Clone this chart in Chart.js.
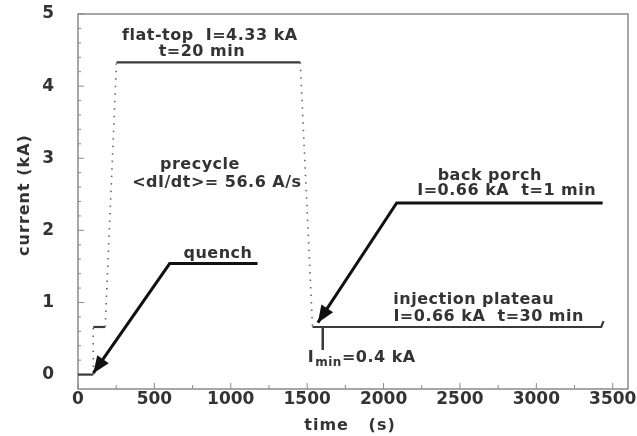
<!DOCTYPE html>
<html lang="en">
<head>
<meta charset="UTF-8">
<title>Magnet current cycle</title>
<script src="https://cdn.jsdelivr.net/npm/chart.js"></script>
<style>
  body { margin: 0; background: #fff; }
  #wrap { width: 637px; height: 436px; }
</style>
</head>
<body>
<div id="wrap"><canvas id="cycleChart" width="637" height="436"></canvas></div>
<script>
// current cycle, time in s, current in kA
const cycleTime    = [0, 100, 100,  178,  252, 1455, 1535, 3425, 3440];
const cycleCurrent = [0,   0, 0.66, 0.66, 4.33, 4.33, 0.66, 0.66, 0.74];
const rampStarts = [1, 3, 5]; // segments drawn dotted (ramps)

const iminTime = [1602, 1602];
const iminCurrent = [0.66, 0.34];

// arrows: underline then pointer, last point is the tip
const quenchTime = [1175, 600, 100];
const quenchCurrent = [1.54, 1.54, 0.02];
const porchTime = [3434, 2086, 1570];
const porchCurrent = [2.38, 2.38, 0.72];

const xTicks = [0, 500, 1000, 1500, 2000, 2500, 3000, 3500];
const yTicks = [0, 1, 2, 3, 4, 5];

const notes = [
  { text: 'flat-top  I=4.33 kA', t: 863, i: 4.70 },
  { text: 't=20 min', t: 811, i: 4.48 },
  { text: 'precycle', t: 798, i: 2.91 },
  { text: '<dI/dt>= 56.6 A/s', t: 909, i: 2.66 },
  { text: 'quench', t: 916, i: 1.68 },
  { text: 'back porch', t: 2695, i: 2.75 },
  { text: 'I=0.66 kA  t=1 min', t: 2806, i: 2.55 },
  { text: 'injection plateau', t: 2590, i: 1.03 },
  { text: 'I=0.66 kA  t=30 min', t: 2688, i: 0.80 }
];

const FONT = '"DejaVu Sans", sans-serif';
const INK = '#333';

function pts(xs, ys) {
  return xs.map((x, k) => ({ x: x, y: ys[k] }));
}

const decorPlugin = {
  id: 'decor',
  beforeDatasetsDraw(chart) {
    const { ctx, chartArea: a, scales: { x, y } } = chart;
    ctx.save();
    ctx.strokeStyle = '#8a8a8a';
    ctx.lineWidth = 1.5;
    ctx.strokeRect(a.left, a.top, a.right - a.left, a.bottom - a.top);
    // small inward ticks
    ctx.lineWidth = 1;
    for (let v = 0; v <= 3500; v += 250) {
      const px = x.getPixelForValue(v);
      const len = v % 500 === 0 ? 6 : 4;
      ctx.beginPath();
      ctx.moveTo(px, a.bottom);
      ctx.lineTo(px, a.bottom - len);
      ctx.stroke();
    }
    for (let k = 0; k <= 25; k++) {
      const py = y.getPixelForValue(k * 0.2);
      const len = k % 5 === 0 ? 6 : 3;
      ctx.beginPath();
      ctx.moveTo(a.left, py);
      ctx.lineTo(a.left + len, py);
      ctx.stroke();
    }
    ctx.restore();
  },
  afterDatasetsDraw(chart) {
    const { ctx, scales: { x, y } } = chart;
    ctx.save();
    // arrow heads
    chart.data.datasets.forEach((ds, i) => {
      if (!ds.arrow) return;
      const els = chart.getDatasetMeta(i).data;
      const p1 = els[els.length - 2], p2 = els[els.length - 1];
      const ang = Math.atan2(p2.y - p1.y, p2.x - p1.x);
      const L = 17, W = 7;
      ctx.fillStyle = ds.borderColor;
      ctx.beginPath();
      ctx.moveTo(p2.x, p2.y);
      ctx.lineTo(p2.x - L * Math.cos(ang) + W * Math.sin(ang), p2.y - L * Math.sin(ang) - W * Math.cos(ang));
      ctx.lineTo(p2.x - L * Math.cos(ang) - W * Math.sin(ang), p2.y - L * Math.sin(ang) + W * Math.cos(ang));
      ctx.closePath();
      ctx.fill();
    });

    ctx.fillStyle = INK;
    ctx.font = 'bold 16px ' + FONT;
    ctx.letterSpacing = '0.5px';
    ctx.textAlign = 'center';
    ctx.textBaseline = 'middle';
    notes.forEach(n => {
      ctx.fillText(n.text, x.getPixelForValue(n.t), y.getPixelForValue(n.i));
    });

    // I_min label with subscript
    let lx = x.getPixelForValue(1504), ly = y.getPixelForValue(0.23);
    ctx.textAlign = 'left';
    ctx.fillText('I', lx, ly);
    lx += ctx.measureText('I').width + 1;
    ctx.font = 'bold 12px ' + FONT;
    ctx.fillText('min', lx, ly + 5);
    lx += ctx.measureText('min').width;
    ctx.font = 'bold 16px ' + FONT;
    ctx.fillText('=0.4 kA', lx, ly);

    // axis titles
    ctx.textAlign = 'center';
    ctx.letterSpacing = '1px';
    ctx.fillText('time   (s)', 350, 426);
    ctx.translate(25, 195);
    ctx.rotate(-Math.PI / 2);
    ctx.fillText('current (kA)', 0, 0);
    ctx.restore();
  }
};

new Chart(document.getElementById('cycleChart'), {
  type: 'scatter',
  data: {
    datasets: [
      {
        data: pts(cycleTime, cycleCurrent),
        showLine: true,
        borderColor: '#3a3a3a',
        borderWidth: 2.2,
        pointRadius: 0,
        segment: {
          borderDash: c => rampStarts.includes(c.p0DataIndex) ? [1.5, 6] : undefined,
          borderColor: c => rampStarts.includes(c.p0DataIndex) ? '#666' : undefined,
          borderWidth: c => rampStarts.includes(c.p0DataIndex) ? 1.6 : undefined
        }
      },
      {
        data: pts(iminTime, iminCurrent),
        showLine: true,
        borderColor: '#3a3a3a',
        borderWidth: 2.5,
        pointRadius: 0
      },
      {
        data: pts(quenchTime, quenchCurrent),
        showLine: true,
        borderColor: '#111',
        borderWidth: 3,
        pointRadius: 0,
        arrow: true
      },
      {
        data: pts(porchTime, porchCurrent),
        showLine: true,
        borderColor: '#111',
        borderWidth: 3,
        pointRadius: 0,
        arrow: true
      }
    ]
  },
  options: {
    responsive: false,
    animation: false,
    devicePixelRatio: 1,
    layout: { padding: { left: 0, top: 14, right: 9, bottom: 0 } },
    plugins: { legend: { display: false }, tooltip: { enabled: false } },
    scales: {
      x: {
        type: 'linear',
        min: 0,
        max: 3600,
        grid: { display: false },
        border: { display: false },
        afterBuildTicks: s => { s.ticks = xTicks.map(v => ({ value: v })); },
        afterFit: s => { s.height = 47; s.paddingLeft = 0; s.paddingRight = 0; },
        ticks: {
          autoSkip: false,
          maxRotation: 0,
          padding: -8,
          color: INK,
          font: { family: FONT, size: 17, weight: 'bold' },
          callback: v => String(v)
        }
      },
      y: {
        type: 'linear',
        min: -0.2,
        max: 5,
        grid: { display: false },
        border: { display: false },
        afterBuildTicks: s => { s.ticks = yTicks.map(v => ({ value: v })); },
        afterFit: s => { s.width = 78; s.paddingTop = 0; s.paddingBottom = 0; },
        ticks: {
          padding: 16,
          color: INK,
          font: { family: FONT, size: 17, weight: 'bold' },
          callback: v => String(v)
        }
      }
    }
  },
  plugins: [decorPlugin]
});
</script>
</body>
</html>
